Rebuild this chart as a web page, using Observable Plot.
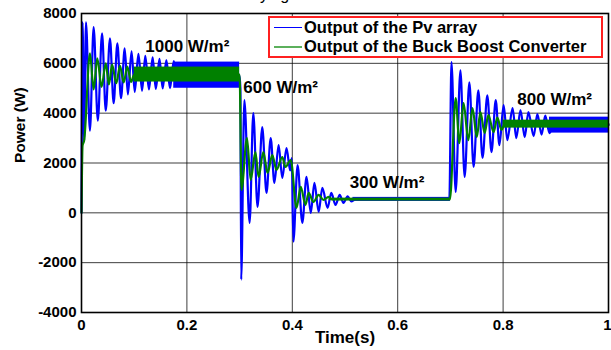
<!DOCTYPE html>
<html>
<head>
<meta charset="utf-8">
<script src="https://cdn.jsdelivr.net/npm/d3@7"></script>
<script src="https://cdn.jsdelivr.net/npm/@observablehq/plot@0.6"></script>
<style>
  html, body { margin: 0; padding: 0; background: #fff; }
  #wrap { position: relative; width: 611px; height: 350px; overflow: hidden; background: #fff;
          font-family: "Liberation Sans", Arial, sans-serif; }
  #legend { position: absolute; left: 268px; top: 16px; width: 335px; height: 42px;
            border: 2px solid #ff2020; background: #fff; box-sizing: border-box; }
  .row { position: absolute; left: 304px; height: 20px; line-height: 20px;
         font-weight: bold; font-size: 16.5px; color: #000; white-space: nowrap; }
  .ln { position: absolute; left: 274px; width: 28px; }
</style>
</head>
<body>
<div id="wrap">
  <div id="chart"></div>
  <div id="legend"></div>
  <div class="ln" style="top:27px;height:1px;background:#0000ff"></div>
  <div class="row" style="top:17px">Output of the Pv array</div>
  <div class="ln" style="top:46px;height:2px;background:#5cb05c"></div>
  <div class="row" style="top:36px">Output of the Buck Boost Converter</div>
</div>
<script>
// ---- axis ticks ----
const xTicks = [0, 0.2, 0.4, 0.6, 0.8, 1];
const yTicks = [-4000, -2000, 0, 2000, 4000, 6000, 8000];

// ---- PV array output (blue): turning points ----
const pvT = [0, 0.002, 0.005, 0.0085, 0.016, 0.023, 0.031, 0.039, 0.046, 0.054, 0.061, 0.068, 0.075, 0.082,
  0.088, 0.095, 0.101, 0.108, 0.115, 0.121, 0.128, 0.135, 0.141, 0.148, 0.154, 0.161, 0.168, 0.175, 0.18,
  0.300, 0.3015, 0.303, 0.309, 0.319, 0.326, 0.334, 0.343, 0.351, 0.359, 0.366, 0.374, 0.381, 0.389, 0.396, 0.399,
  0.402, 0.410, 0.419, 0.427, 0.435, 0.442, 0.450, 0.457, 0.467, 0.474, 0.482, 0.490, 0.497, 0.505, 0.512, 0.52,
  0.698, 0.702, 0.710, 0.719, 0.727, 0.736, 0.744, 0.753, 0.761, 0.770, 0.778, 0.786, 0.793, 0.801, 0.808,
  0.818, 0.825, 0.833, 0.841, 0.848, 0.858, 0.865, 0.873, 0.880, 0.888, 0.895, 1.0];
const pvP = [0, 7640, 2900, 7640, 3300, 7450, 3700, 7200, 4100, 7000, 4400, 6800, 4600, 6600,
  4750, 6480, 4850, 6380, 4900, 6300, 4950, 6240, 4970, 6180, 4990, 6130, 5000, 6090, 5500,
  5500, 5000, -2680, 4520, -400, 4000, 240, 3440, 800, 3000, 1200, 2720, 1400, 2600, 1700, 2200,
  -1160, 1920, -400, 1440, 0, 1200, 40, 1000, 200, 800, 320, 720, 400, 660, 460, 540,
  540, 6050, 840, 5720, 1440, 5240, 1840, 4920, 2200, 4720, 2440, 4520, 2720, 4320, 2920,
  4200, 3000, 4120, 3040, 4040, 3080, 3960, 3140, 3900, 3200, 3520, 3520];

// PV ripple bands (steady state)
const pvBandStart = [0.175, 0.515, 0.888];
const pvBandEnd   = [0.3, 0.7, 1.0];
const pvBandLo    = [5000, 460, 3200];
const pvBandHi    = [6050, 620, 3840];

// ---- Buck Boost converter output (green) ----
const bbT = [0, 0.002, 0.005, 0.016, 0.023, 0.030, 0.038, 0.046, 0.052, 0.058, 0.066, 0.073, 0.080, 0.087, 0.094, 0.1,
  0.300, 0.3035, 0.314, 0.321, 0.330, 0.336, 0.345, 0.353, 0.362, 0.370, 0.381, 0.387, 0.397,
  0.408, 0.416, 0.425, 0.431, 0.440, 0.450, 0.459, 0.469, 0.475,
  0.699, 0.710, 0.717, 0.725, 0.734, 0.742, 0.750, 0.757, 0.765, 0.772, 0.782, 0.789, 0.797, 0.803, 1.0];
const bbP = [0, 2700, 2900, 6400, 4950, 6200, 5050, 6000, 5150, 5950, 5200, 5900, 5230, 5870, 5250, 5550,
  5550, 920, 3000, 1320, 2440, 1440, 2440, 1600, 2320, 1720, 2240, 1840, 2120,
  200, 1040, 320, 800, 440, 720, 520, 640, 540,
  540, 4600, 2800, 4400, 2920, 4200, 3040, 4040, 3200, 3920, 3240, 3820, 3330, 3560, 3560];

const bbBandStart = [0.10, 0.47, 0.80];
const bbBandEnd   = [0.3, 0.7, 1.0];
const bbBandLo    = [5250, 490, 3400];
const bbBandHi    = [5850, 590, 3720];

// ---- irradiance annotations ----
const irrLabels = ["1000 W/m²", "600 W/m²", "300 W/m²", "800 W/m²"];
const irrT = [0.121, 0.307, 0.509, 0.827];
const irrP = [6680, 5030, 1213, 4547];

const titleText = "Power under varying irradiance";

// ---- build tables ----
const pv = pvT.map((t, i) => ({t, p: pvP[i]}));
const bb = bbT.map((t, i) => ({t, p: bbP[i]}));
const pvBands = pvBandStart.map((s, i) => ({x1: s, x2: pvBandEnd[i], y1: pvBandLo[i], y2: pvBandHi[i]}));
const bbBands = bbBandStart.map((s, i) => ({x1: s, x2: bbBandEnd[i], y1: bbBandLo[i], y2: bbBandHi[i]}));
const irr = irrLabels.map((label, i) => ({label, t: irrT[i], p: irrP[i]}));
const xInner = xTicks.slice(0, -1);
const xLast = xTicks.slice(-1);

const chart = Plot.plot({
  width: 611,
  height: 350,
  marginLeft: 81,
  marginRight: 3,
  marginTop: 13,
  marginBottom: 38,
  style: {
    fontFamily: '"Liberation Sans", Arial, sans-serif',
    fontWeight: "bold",
    fontSize: "15px",
    color: "#000",
    background: "#fff"
  },
  x: {domain: [0, 1]},
  y: {domain: [-4000, 8000]},
  marks: [
    Plot.gridX(xTicks, {stroke: "#000", strokeOpacity: 0.85, strokeWidth: 0.9}),
    Plot.gridY(yTicks, {stroke: "#000", strokeOpacity: 0.85, strokeWidth: 0.9}),
    Plot.rect(pvBands, {x1: "x1", x2: "x2", y1: "y1", y2: "y2", fill: "#0000ff"}),
    Plot.line(pv, {x: "t", y: "p", stroke: "#0000ff", strokeWidth: 2.2, curve: "monotone-x"}),
    Plot.rect(bbBands, {x1: "x1", x2: "x2", y1: "y1", y2: "y2", fill: "#008000"}),
    Plot.line(bb, {x: "t", y: "p", stroke: "#008000", strokeWidth: 2.2, curve: "monotone-x"}),
    Plot.frame({stroke: "#000", strokeWidth: 1.6}),
    Plot.axisX(xInner, {tickSize: 0, tickPadding: 7, tickFormat: d => String(d), label: null, fontSize: 15}),
    Plot.axisX(xLast, {tickSize: 0, tickPadding: 7, tickFormat: d => String(d), label: null, fontSize: 15, textAnchor: "end", dx: 3}),
    Plot.axisY(yTicks, {tickSize: 0, tickPadding: 5, tickFormat: d => String(d), label: null, fontSize: 15}),
    Plot.text(irr, {x: "t", y: "p", text: "label", textAnchor: "start", fontSize: 17, fontWeight: "bold", fill: "#000"}),
    Plot.text(["Time(s)"], {text: d => d, frameAnchor: "bottom", dy: 30, fontSize: 17, fontWeight: "bold", fill: "#000"}),
    Plot.text(["Power (W)"], {text: d => d, frameAnchor: "left", dx: -61, rotate: -90, fontSize: 15.5, fontWeight: "bold", fill: "#000"}),
    Plot.text([titleText], {text: d => d, frameAnchor: "top-left", dx: 61, dy: -13.5, textAnchor: "start", lineAnchor: "bottom", fontSize: 16, fontWeight: "normal", fill: "#000"})
  ]
});
document.getElementById("chart").appendChild(chart);
</script>
</body>
</html>
